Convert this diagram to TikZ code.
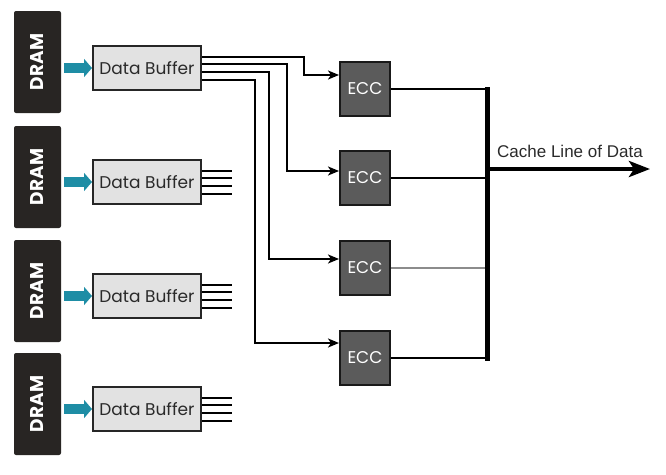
\documentclass[tikz,border=0pt]{standalone}
\usepackage{fontspec}
\setmainfont{Liberation Sans}
\newfontfamily\geo{Poppins}
\usetikzlibrary{arrows.meta}
\definecolor{dramc}{HTML}{282523}
\definecolor{bufc}{HTML}{E2E2E2}
\definecolor{eccc}{HTML}{5B5B5B}
\definecolor{tealc}{HTML}{1E8DA5}
\definecolor{txtc}{HTML}{2A2A2A}
\begin{document}
\begin{tikzpicture}[x=1pt,y=-1pt,
  drambox/.style={fill=dramc, rounded corners=2pt, minimum width=102pt, minimum height=47pt, inner sep=0pt, rotate=90, text=white, font=\geo\bfseries\fontsize{18.5}{20}\selectfont},
  bufbox/.style={draw=black!85, line width=2pt, fill=bufc, minimum width=108pt, minimum height=44pt, inner sep=0pt, text=txtc, font=\geo\fontsize{17}{19}\selectfont},
  eccbox/.style={draw=black!90, line width=2pt, fill=eccc, minimum width=50pt, minimum height=54pt, inner sep=0pt, text=white, font=\geo\fontsize{17}{19}\selectfont},
  feed/.style={draw=tealc, line width=10pt, shorten <=3pt, -{Triangle[length=8pt,width=18pt]}},
  conn/.style={draw=black, line width=2pt},
  connarrow/.style={conn, -{Stealth[length=11pt,width=9pt,inset=3pt]}},
  busline/.style={draw=black, line width=5pt, line cap=rect},
  outarrow/.style={draw=black, line width=4pt, -{Stealth[length=21pt,width=16pt,inset=5pt]}},
  lbl/.style={text=txtc, font=\fontsize{17}{19}\selectfont, inner sep=0pt}
]
\useasboundingbox (0,0) rectangle (666,474);

% DRAM modules
\node[drambox] (d1) at (37.5,62) {DRAM};
\node[drambox] (d2) at (37.5,177) {DRAM};
\node[drambox] (d3) at (37.5,291) {DRAM};
\node[drambox] (d4) at (37.5,404) {DRAM};

% Data buffers
\node[bufbox] (b1) at (147,68) {Data Buffer};
\node[bufbox] (b2) at (147,182) {Data Buffer};
\node[bufbox] (b3) at (147,296) {Data Buffer};
\node[bufbox] (b4) at (147,409) {Data Buffer};

% ECC blocks
\node[eccbox] (e1) at (365,89) {ECC};
\node[eccbox] (e2) at (365,178) {ECC};
\node[eccbox] (e3) at (365,268) {ECC};
\node[eccbox] (e4) at (365,358) {ECC};

% feed arrows
\foreach \i in {1,2,3,4} {
  \draw[feed] (d\i.south |- b\i.west) -- (b\i.west);
}

% buffer 1 to ECCs
\draw[connarrow] ([yshift=11pt]b1.east) -- ++(102,0) |- ([yshift=14pt]e1.west);
\draw[connarrow] ([yshift=4pt]b1.east) -- ++(85,0) |- ([yshift=7pt]e2.west);
\draw[connarrow] ([yshift=-4pt]b1.east) -- ++(67,0) |- ([yshift=9pt]e3.west);
\draw[connarrow] ([yshift=-12pt]b1.east) -- ++(53,0) |- ([yshift=15pt]e4.west);

% stubs from other buffers
\foreach \i in {2,3,4} {
  \foreach \s in {11,4,-4,-12} {
    \draw[conn] ([yshift=\s pt]b\i.east) -- ++(30,0);
  }
}

% bus
\coordinate (bt) at (487.5,89);
\coordinate (bb) at (487.5,358);
\coordinate (out) at (650,169);
\draw[conn] (e1.east) -- (e1.east -| bt);
\draw[conn] (e2.east) -- (e2.east -| bt);
\draw[draw=black!45, line width=1.5pt] (e3.east) -- (e3.east -| bt);
\draw[conn] (e4.east) -- (e4.east -| bt);
\draw[busline] (bt) -- (bb);
\draw[outarrow] (out -| bt) -- (out);
\node[lbl, anchor=base west] (cl) at (497,157) {Cache Line of Data};
\end{tikzpicture}
\end{document}
